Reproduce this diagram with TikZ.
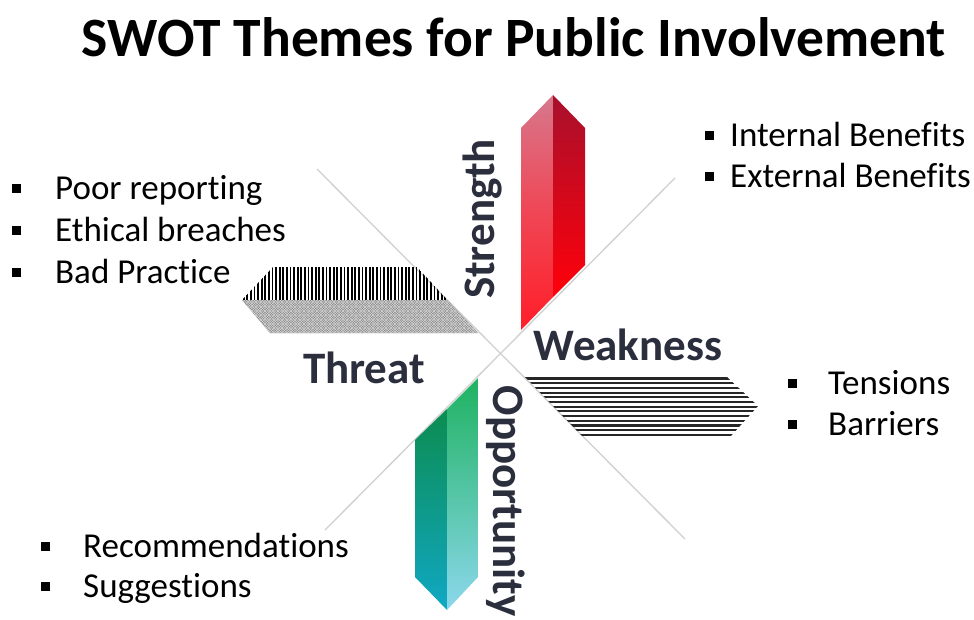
\documentclass[tikz,border=0pt]{standalone}
\usepackage{fontspec}
\setmainfont{Carlito}[Ligatures=NoCommon]
\usetikzlibrary{calc}
\definecolor{labelc}{HTML}{2B2E3C}
\definecolor{xline}{HTML}{D0D0D0}
\newcommand{\sqb}{\rule[6.5pt]{9pt}{9pt}}
\begin{document}
\begin{tikzpicture}[x=1pt,y=-1pt,
  item/.style={anchor=base west, inner sep=0pt, font=\fontsize{35}{40}\selectfont, text=black},
  lbl/.style={inner sep=0pt, font=\fontsize{45}{52}\selectfont\bfseries, text=labelc},
  xl/.style={draw=xline, line width=1.3pt}]
\useasboundingbox (0,0) rectangle (974,619);
\fill[white] (0,0) rectangle (974,619);
% X lines
\coordinate (ul) at (317,169);
\coordinate (lr) at (685,539);
\coordinate (ur) at (675,178);
\coordinate (ll) at (325,530);
\draw[xl] (ul) -- (lr);
\draw[xl] (ur) -- (ll);
% Title
\node[anchor=base, inner sep=0pt, font=\fontsize{55.5}{62}\selectfont\bfseries] (title) at (514,56) {SWOT Themes for Public Involvement};
% Strength prism
\shade[top color={rgb,255:red,214;green,120;blue,140}, bottom color={rgb,255:red,255;green,30;blue,40}, middle color={rgb,255:red,240;green,70;blue,85}]
  (521,128) -- (553,95) -- (553,297) -- (521,330) -- cycle;
\shade[top color={rgb,255:red,168;green,16;blue,44}, bottom color={rgb,255:red,255;green,0;blue,10}]
  (553,95) -- (585,128) -- (585,265) -- (553,297) -- cycle;
% Opportunity prism
\shade[top color={rgb,255:red,12;green,140;blue,80}, middle color={rgb,255:red,16;green,172;blue,96}, bottom color={rgb,255:red,16;green,168;blue,196}]
  (415,440) -- (447,409) -- (447,610) -- (415,577) -- cycle;
\shade[top color={rgb,255:red,30;green,178;blue,96}, bottom color={rgb,255:red,140;green,216;blue,236}]
  (447,409) -- (478,378) -- (478,577) -- (447,610) -- cycle;
% Threat bar
\begin{scope}
  \clip (273,267) -- (417,267) -- (447.5,300) -- (242,300) -- cycle;
  \foreach \x in {240,243.6,...,452} \draw[line width=1.8pt] (\x,265) -- (\x,302);
\end{scope}
\begin{scope}
  \clip (242,300) -- (447.5,300) -- (478,333) -- (270,333) -- cycle;
  \fill[gray!95] (230,295) rectangle (490,340);
  \foreach \x in {200,202.6,...,500} \draw[white!70!gray, line width=0.45pt] (\x,298) -- ++(40,40);
  \foreach \x in {200,202.6,...,520} \draw[white!70!gray, line width=0.45pt] (\x,298) -- ++(-40,40);
\end{scope}
% Weakness bar
\begin{scope}
  \clip (525,377) -- (727,377) -- (758,406) -- (730,437) -- (583,437) -- cycle;
  \foreach \y in {378.5,383.2,...,438} \draw[line width=2.1pt, black!85] (500,\y) -- (770,\y);
\end{scope}
% Labels
\node[lbl, rotate=90, anchor=base] (strength) at (494,219) {Strength};
\node[lbl, anchor=base] (weakness) at (628,360) {Weakness};
\node[lbl, anchor=base] (threat) at (364,383) {Threat};
\node[lbl, rotate=-90, anchor=base] (opportunity) at (493,501) {Opportunity};
% Bullets
\node[item] (ib) at (705,146) {\sqb\hspace{16pt}Internal Benefits};
\node[item] (eb) at (705,187) {\sqb\hspace{16pt}External Benefits};
\node[item] (pr) at (12,199) {\sqb\hspace{34pt}Poor reporting};
\node[item] (eth) at (12,241) {\sqb\hspace{34pt}Ethical breaches};
\node[item] (bp) at (12,283) {\sqb\hspace{34pt}Bad Practice};
\node[item] (te) at (788,394) {\sqb\hspace{31pt}Tensions};
\node[item] (ba) at (788,435) {\sqb\hspace{31pt}Barriers};
\node[item] (re) at (41,557) {\sqb\hspace{33pt}Recommendations};
\node[item] (su) at (41,597) {\sqb\hspace{33pt}Suggestions};
\end{tikzpicture}
\end{document}
